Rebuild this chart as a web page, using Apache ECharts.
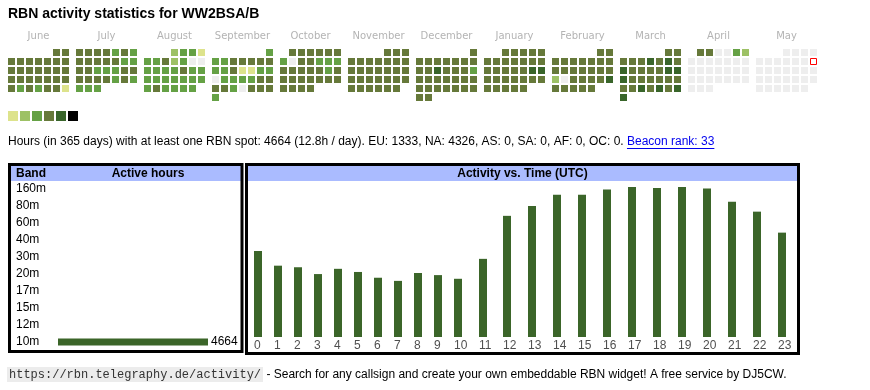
<!DOCTYPE html>
<html><head><meta charset="utf-8">
<script src="https://cdn.jsdelivr.net/npm/echarts@6/dist/echarts.min.js"></script>
<style>html,body{margin:0;padding:0;background:#fff}#c{width:870px;height:390px}</style>
</head><body><div id="c"></div>
<script>
// ---------------- DATA ----------------
const titleText = 'RBN activity statistics for WW2BSA/B';
const monthNames = ['June','July','August','September','October','November','December','January','February','March','April','May'];
const monthStarts = ['2024-06','2024-07','2024-08','2024-09','2024-10','2024-11','2024-12','2025-01','2025-02','2025-03','2025-04','2025-05'];
const todayDate = '2025-05-11';
// activity level per day (0 = none, 1..6 = legend levels)
const jun = [4,4, 4,4,4,4,4,4,4, 4,4,4,4,4,4,4, 4,4,4,4,4,4,4, 4,3,4,3,4,4,1];
const jul = [4,4,4,4,3,4,3, 4,4,4,4,4,3,3, 4,4,3,3,3,4,4, 4,4,4,4,3,4,3, 3,3,3];
const aug = [2,3,3,1, 3,3,4,2,3,0,0, 3,3,3,3,4,3,3, 3,3,3,3,3,3,3, 3,4,3,3,3,3];
const sep = [3, 3,3,4,4,4,4,4, 3,3,4,1,1,3,3, 0,3,3,3,3,4,4, 4,4,3,0,4,4,4, 3];
const oct = [4,4,4,4,4,4, 3,0,4,4,3,3,3, 4,4,4,4,4,3,4, 4,4,4,4,4,4,4, 4,4,4,4];
const nov = [4,4,4, 4,4,4,4,4,4,4, 4,4,4,4,4,4,4, 4,4,4,4,4,4,4, 4,4,4,4,4,4];
const dec = [4, 4,4,4,4,4,4,4, 4,4,5,4,4,4,3, 4,4,4,4,4,4,4, 4,4,4,4,4,4,4, 4,4];
const jan = [4,4,4,4,4, 4,4,4,4,4,4,4, 4,4,4,4,4,5,5, 4,4,4,4,4,4,4, 4,4,4,4,4];
const feb = [4,4, 4,4,4,4,4,4,4, 4,4,4,4,4,4,4, 2,0,4,4,4,4,5, 4,4,4,4,4];
const mar = [4,4, 4,4,4,5,4,5,4, 5,4,4,4,4,5,5, 5,4,4,4,4,4,4, 4,4,5,4,5,4,5, 5];
const apr = [4,4,0,0,3,2, 0,0,0,0,0,0,0, 0,0,0,0,0,0,0, 0,0,0,0,0,0,0, 0,0,0];
const may = [0,0,0,0, 0,0,0,0,0,0,0, 0,0,0,0,0,0,0, 0,0,0,0,0,0,0, 0,0,0,0,0,0];
const levelColors = ['#eeeeee','#dde38c','#9dc165','#65a145','#66793a','#39652a','#000000'];

const summaryText = 'Hours (in 365 days) with at least one RBN spot: 4664 (12.8h / day). EU: 1333, NA: 4326, AS: 0, SA: 0, AF: 0, OC: 0. ';
const linkText = 'Beacon rank: 33';

const bands = ['160m','80m','60m','40m','30m','20m','17m','15m','12m','10m'];
const bandHours = [0,0,0,0,0,0,0,0,0,4664];

const hourLabels = ['0','1','2','3','4','5','6','7','8','9','10','11','12','13','14','15','16','17','18','19','20','21','22','23'];
const hourValues = [164,136,133,120,130,124,113,107,122,118,111,149,231,250,271,271,281,286,284,286,283,258,239,199];

const footerUrl = 'https://rbn.telegraphy.de/activity/';
const footerText = ' - Search for any callsign and create your own embeddable RBN widget! A free service by DJ5CW.';

// ---------------- LAYOUT ----------------
const FONT = '"Liberation Sans", Arial, sans-serif';
const MONO = '"Liberation Mono", "DejaVu Sans Mono", monospace';
const CELL = 9, BLOCK = 68;
const ctx = document.createElement('canvas').getContext('2d');
function tw(t, f){ ctx.font = f; return ctx.measureText(t).width; }

const monthLevels = [jun,jul,aug,sep,oct,nov,dec,jan,feb,mar,apr,may];
const calData = [];
monthLevels.forEach((lv, m) => {
  const [yy, mm] = monthStarts[m].split('-').map(Number);
  const first = (new Date(Date.UTC(yy, mm - 1, 1)).getUTCDay() + 6) % 7;
  lv.forEach((level, d) => {
    const idx = first + d, col = idx % 7, row = Math.floor(idx / 7);
    const iso = monthStarts[m] + '-' + String(d + 1).padStart(2, '0');
    if (iso === todayDate) {
      calData.push({value:[m*BLOCK + col*CELL, row*CELL, level], symbolSize:6,
        itemStyle:{color:'#ffffff', borderColor:'#ff0000', borderWidth:1, opacity:1}});
    } else {
      calData.push({value:[m*BLOCK + col*CELL, row*CELL, level], itemStyle:{color:levelColors[level], opacity:1}});
    }
  });
});
const monthLabelData = monthNames.map((n, m) => ({name:n, value:[m*BLOCK + 3*CELL, 0]}));

// hour columns: width = max(bar, label) + padding
const BARW = 8, PAD = 12;
const hourLeft = [];
let acc = 0;
hourLabels.forEach(l => {
  hourLeft.push(acc);
  acc += Math.max(BARW, Math.floor(tw(l, '12px ' + FONT))) + PAD;
});
const hourTotal = acc;
const hourBarData = hourValues.map((v, i) => [hourLeft[i] + PAD/2 + BARW/2, v]);
const hourLabelData = hourLabels.map((l, i) => ({name:l, value:[hourLeft[i] + PAD/2, 0]}));

const sumW = tw(summaryText, '12px ' + FONT);
const linkW = tw(linkText, '12px ' + FONT);
const urlW = tw(footerUrl, '12px ' + MONO);

const chart = echarts.init(document.getElementById('c'), null, {renderer:'canvas'});
chart.setOption({
  animation:false,
  backgroundColor:'#ffffff',
  title:{text:titleText, left:8, top:7, padding:0,
    textStyle:{fontSize:14, fontWeight:'bold', color:'#000', fontFamily:FONT}},
  grid:[
    {left:0, top:0, width:870, height:390},
    {left:248, top:187, width:hourTotal, height:150},
    {left:58, top:180.5, width:150, height:170}
  ],
  xAxis:[
    {gridIndex:0, type:'value', min:-11.5, max:858.5, show:false},
    {gridIndex:1, type:'value', min:0, max:hourTotal, show:false},
    {gridIndex:2, type:'value', min:0, max:Math.max(...bandHours), show:false}
  ],
  yAxis:[
    {gridIndex:0, type:'value', inverse:true, min:-52.5, max:337.5, show:false},
    {gridIndex:1, type:'value', min:0, max:Math.max(...hourValues), show:false},
    {gridIndex:2, type:'category', inverse:true, data:bands,
      axisLine:{show:false}, axisTick:{show:false}, splitLine:{show:false},
      axisLabel:{align:'left', margin:42, fontSize:12, color:'#000', fontFamily:FONT}}
  ],
  series:[
    {type:'scatter', xAxisIndex:0, yAxisIndex:0, symbol:'rect', symbolSize:7, data:calData, silent:true,
      itemStyle:{opacity:1}},
    {type:'scatter', xAxisIndex:0, yAxisIndex:0, symbol:'rect', symbolSize:1, data:monthLabelData, silent:true,
      itemStyle:{color:'rgba(0,0,0,0)'},
      label:{show:true, position:'top', distance:11, formatter:'{b}', fontSize:10, color:'#a0a0a0', fontFamily:'"DejaVu Sans", sans-serif'}},
    {type:'bar', xAxisIndex:1, yAxisIndex:1, data:hourBarData, barWidth:BARW, itemStyle:{color:'#3b6529'}, silent:true},
    {type:'scatter', xAxisIndex:1, yAxisIndex:1, symbol:'rect', symbolSize:1, data:hourLabelData, silent:true,
      itemStyle:{color:'rgba(0,0,0,0)'},
      label:{show:true, position:'bottom', distance:2, align:'left', formatter:'{b}', fontSize:12, color:'#222', fontFamily:FONT}},
    {type:'bar', xAxisIndex:2, yAxisIndex:2, data:bandHours, barWidth:7, itemStyle:{color:'#3b6529'}, silent:true,
      label:{show:true, position:'right', distance:3, fontSize:12, color:'#000', fontFamily:FONT,
        formatter:p => p.value > 0 ? String(p.value) : ''}}
  ],
  graphic:[
    // legend squares
    ...levelColors.slice(1).map((c, i) => ({type:'rect', shape:{x:8 + i*12, y:111, width:10, height:10}, style:{fill:c}})),
    // summary line
    {type:'text', x:8, y:142, style:{text:summaryText, fill:'#000', font:'12px ' + FONT, textVerticalAlign:'middle'}},
    {type:'text', x:8 + sumW, y:142, style:{text:linkText, fill:'#0000ee', font:'12px ' + FONT, textVerticalAlign:'middle'}},
    {type:'line', shape:{x1:8 + sumW, y1:148.5, x2:8 + sumW + linkW, y2:148.5}, style:{stroke:'#0000ee', lineWidth:1}},
    // left table
    {type:'rect', z:0, shape:{x:10, y:166, width:231, height:15}, style:{fill:'#aabbff'}},
    {type:'rect', z:10, shape:{x:9.5, y:164.5, width:232.5, height:187}, style:{fill:'none', stroke:'#000', lineWidth:3}},
    {type:'text', z:11, x:16, y:173.5, style:{text:'Band', fill:'#000', font:'bold 12px ' + FONT, textVerticalAlign:'middle'}},
    {type:'text', z:11, x:148, y:173.5, style:{text:'Active hours', fill:'#000', font:'bold 12px ' + FONT, textAlign:'center', textVerticalAlign:'middle'}},
    // right table
    {type:'rect', z:0, shape:{x:248, y:166, width:549, height:15}, style:{fill:'#aabbff'}},
    {type:'rect', z:10, shape:{x:246.5, y:164.5, width:552, height:189}, style:{fill:'none', stroke:'#000', lineWidth:3}},
    {type:'text', z:11, x:522.5, y:173.5, style:{text:'Activity vs. Time (UTC)', fill:'#000', font:'bold 12px ' + FONT, textAlign:'center', textVerticalAlign:'middle'}},
    // footer
    {type:'rect', shape:{x:7, y:367, width:urlW + 4, height:15}, style:{fill:'#ececec'}},
    {type:'text', x:9, y:374.5, style:{text:footerUrl, fill:'#333', font:'12px ' + MONO, textVerticalAlign:'middle'}},
    {type:'text', x:11 + urlW, y:374.5, style:{text:footerText, fill:'#000', font:'12px ' + FONT, textVerticalAlign:'middle'}}
  ]
});
</script>
</body></html>
